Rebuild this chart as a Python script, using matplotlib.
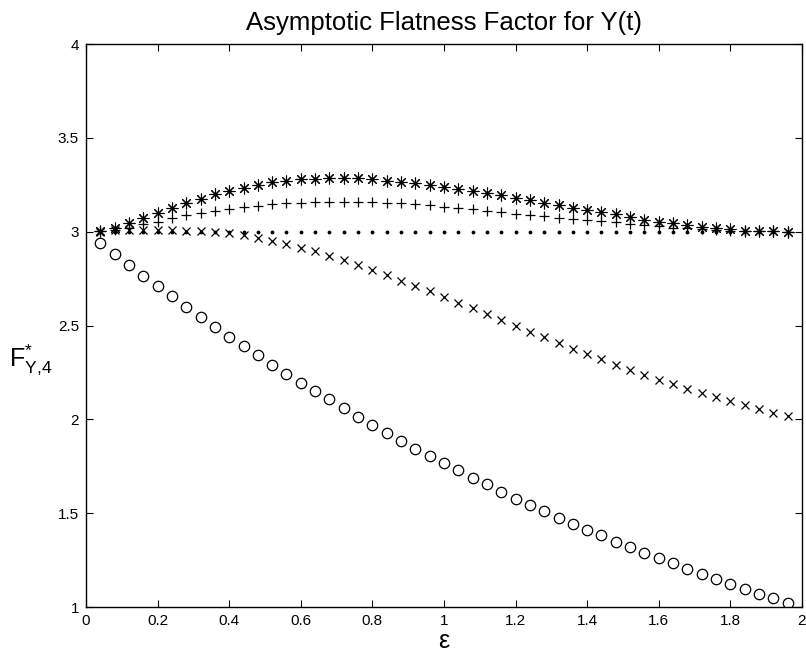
import matplotlib
matplotlib.use('Agg')
import matplotlib.pyplot as plt
import numpy as np

matplotlib.rcParams['font.family'] = ['Liberation Sans', 'DejaVu Sans']
matplotlib.rcParams['mathtext.fontset'] = 'custom'
matplotlib.rcParams['mathtext.rm'] = 'Liberation Sans'
matplotlib.rcParams['mathtext.it'] = 'Liberation Sans:italic'

# epsilon grid used for every curve
eps = [0.04, 0.08, 0.12, 0.16, 0.20, 0.24, 0.28, 0.32, 0.36, 0.40,
       0.44, 0.48, 0.52, 0.56, 0.60, 0.64, 0.68, 0.72, 0.76, 0.80,
       0.84, 0.88, 0.92, 0.96, 1.00, 1.04, 1.08, 1.12, 1.16, 1.20,
       1.24, 1.28, 1.32, 1.36, 1.40, 1.44, 1.48, 1.52, 1.56, 1.60,
       1.64, 1.68, 1.72, 1.76, 1.80, 1.84, 1.88, 1.92, 1.96]

flat_circle = [2.938, 2.881, 2.820, 2.765, 2.710, 2.657, 2.600, 2.547, 2.493, 2.440,
               2.390, 2.341, 2.291, 2.241, 2.195, 2.149, 2.107, 2.059, 2.014, 1.971,
               1.929, 1.884, 1.843, 1.806, 1.766, 1.728, 1.687, 1.654, 1.614, 1.577,
               1.545, 1.511, 1.477, 1.445, 1.410, 1.382, 1.348, 1.318, 1.289, 1.259,
               1.233, 1.202, 1.177, 1.148, 1.123, 1.096, 1.071, 1.046, 1.023]

flat_cross = [3.000, 3.008, 3.010, 3.010, 3.010, 3.009, 3.006, 3.003, 3.000, 2.994,
              2.982, 2.968, 2.950, 2.934, 2.914, 2.897, 2.873, 2.849, 2.820, 2.795,
              2.767, 2.738, 2.710, 2.684, 2.653, 2.621, 2.591, 2.559, 2.527, 2.499,
              2.467, 2.437, 2.406, 2.377, 2.348, 2.319, 2.290, 2.262, 2.234, 2.208,
              2.186, 2.163, 2.138, 2.117, 2.096, 2.075, 2.053, 2.034, 2.018]

flat_dot = [3.0] * len(eps)

flat_plus = [3.003, 3.008, 3.017, 3.040, 3.053, 3.071, 3.087, 3.101, 3.111, 3.120,
             3.129, 3.138, 3.147, 3.151, 3.154, 3.156, 3.159, 3.158, 3.158, 3.156,
             3.154, 3.152, 3.149, 3.143, 3.133, 3.127, 3.119, 3.111, 3.103, 3.095,
             3.090, 3.083, 3.074, 3.065, 3.062, 3.055, 3.050, 3.042, 3.035, 3.028,
             3.022, 3.017, 3.012, 3.008, 3.005, 3.003, 3.002, 3.001, 3.000]

flat_star = [3.005, 3.021, 3.048, 3.071, 3.101, 3.128, 3.154, 3.175, 3.199, 3.216,
             3.234, 3.250, 3.263, 3.271, 3.279, 3.282, 3.284, 3.284, 3.284, 3.279,
             3.271, 3.263, 3.257, 3.250, 3.239, 3.229, 3.216, 3.204, 3.193, 3.181,
             3.168, 3.154, 3.142, 3.128, 3.116, 3.103, 3.092, 3.076, 3.062, 3.051,
             3.044, 3.034, 3.026, 3.017, 3.012, 3.006, 3.005, 3.003, 3.000]

fig = plt.figure(figsize=(8.06, 6.53), dpi=100)
ax = fig.add_axes([0.1067, 0.0704, 0.8883, 0.8622])

ax.plot(eps, flat_circle, linestyle='none', marker='o', ms=7.5,
        mfc='none', mec='k', mew=0.9)
ax.plot(eps, flat_cross, linestyle='none', marker='x', ms=5.5,
        color='k', mew=0.9)
ax.plot(eps, flat_dot, linestyle='none', marker='.', ms=3.5, color='k')
ax.plot(eps, flat_plus, linestyle='none', marker='+', ms=7.5,
        color='k', mew=0.9)
# matlab style '*' : eight spokes
ax.plot(eps, flat_star, linestyle='none', marker=(8, 2, 0), ms=8.5,
        color='k', mew=0.8)

ax.set_xlim(0, 2)
ax.set_ylim(1, 4)
ax.set_xticks(np.arange(0, 2.01, 0.2))
ax.set_xticklabels(['0', '0.2', '0.4', '0.6', '0.8', '1',
                    '1.2', '1.4', '1.6', '1.8', '2'])
ax.set_yticks([1, 1.5, 2, 2.5, 3, 3.5, 4])
ax.set_yticklabels(['1', '1.5', '2', '2.5', '3', '3.5', '4'])

ax.tick_params(axis='both', which='both', direction='in', top=True,
               right=True, length=5, width=0.8, labelsize=11)
ax.tick_params(axis='x', pad=5)
ax.tick_params(axis='y', pad=5)
for sp in ax.spines.values():
    sp.set_linewidth(1.0)

ax.set_title('Asymptotic Flatness Factor for Y(t)', fontsize=18.5, pad=10)
ax.set_xlabel('ε', fontsize=18, labelpad=1)
ax.set_ylabel(r'$\mathrm{F}^{*}_{\mathrm{Y{,}4}}$', fontsize=18, rotation=0,
              ha='center', va='center')
ax.yaxis.set_label_coords(-0.077, 0.44)

fig.savefig('out.png', dpi=100)
